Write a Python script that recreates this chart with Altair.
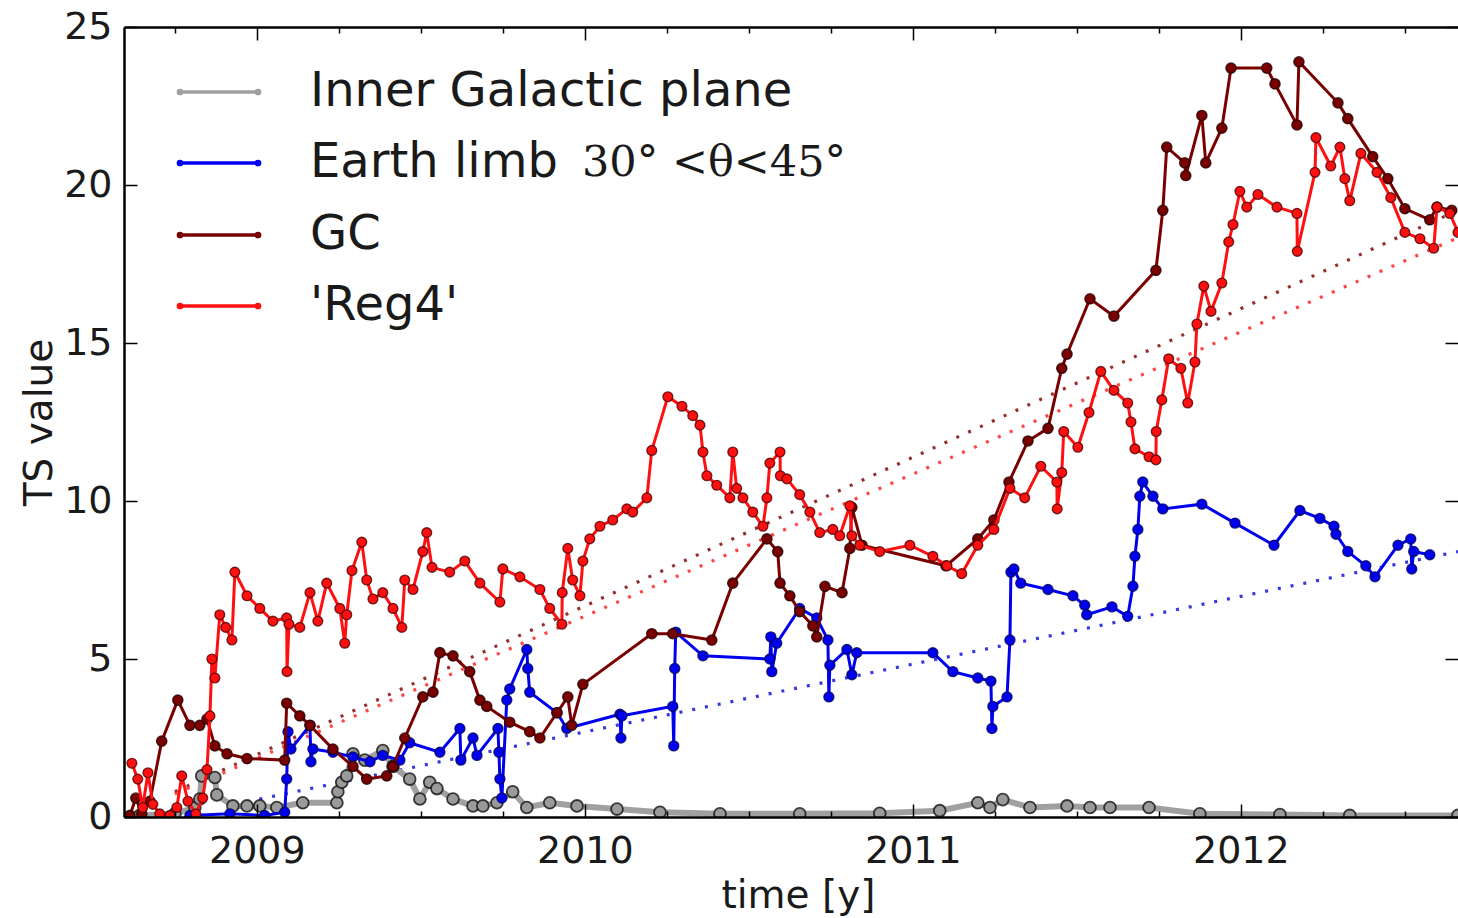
import altair as alt
import pandas as pd

# ---------------- data ----------------
years_major = [2009, 2010, 2011, 2012]
years_minor = [2008.75, 2009.25, 2009.5, 2009.75, 2010.25, 2010.5, 2010.75,
               2011.25, 2011.5, 2011.75, 2012.25, 2012.5]
y_ticks = [0, 5, 10, 15, 20, 25]

legend_names = ["Inner Galactic plane", "Earth limb", "GC", "'Reg4'"]
legend_math = "30° <θ<45°"
series_colors = ["#a0a0a0", "#0000f0", "#7a0000", "#ff1010"]

gal = [(2008.643, 0.05), (2008.750, 0.1), (2008.811, 0.3), (2008.826, 0.57), (2008.832, 1.3),
       (2008.872, 1.25), (2008.878, 0.7), (2008.927, 0.35), (2008.970, 0.35), (2009.009, 0.35),
       (2009.061, 0.3), (2009.140, 0.45), (2009.244, 0.45), (2009.247, 0.8), (2009.259, 1.1),
       (2009.274, 1.3), (2009.293, 2.0), (2009.329, 1.8), (2009.384, 2.1), (2009.415, 1.6),
       (2009.466, 1.2), (2009.497, 0.57), (2009.527, 1.1), (2009.549, 0.9), (2009.598, 0.57),
       (2009.659, 0.35), (2009.689, 0.35), (2009.732, 0.45), (2009.780, 0.8), (2009.823, 0.3),
       (2009.893, 0.45), (2009.976, 0.35), (2010.098, 0.25), (2010.229, 0.15), (2010.412, 0.1),
       (2010.655, 0.1), (2010.899, 0.12), (2011.082, 0.2), (2011.198, 0.45), (2011.235, 0.3),
       (2011.274, 0.55), (2011.357, 0.3), (2011.470, 0.35), (2011.540, 0.3), (2011.601, 0.3),
       (2011.720, 0.3), (2011.875, 0.1), (2012.119, 0.08), (2012.332, 0.05), (2012.662, 0.05)]

limb = [(2008.796, 0.05), (2008.918, 0.1), (2009.024, 0.05), (2009.085, 0.15), (2009.091, 1.2),
        (2009.095, 2.7), (2009.104, 2.15), (2009.162, 2.9), (2009.165, 1.75), (2009.171, 2.15),
        (2009.232, 2.05), (2009.293, 1.9), (2009.345, 1.75), (2009.384, 1.95), (2009.436, 1.8),
        (2009.466, 2.35), (2009.558, 2.05), (2009.619, 2.8), (2009.622, 1.8), (2009.659, 2.5),
        (2009.671, 1.95), (2009.735, 2.8), (2009.738, 2.05), (2009.741, 1.2), (2009.747, 0.6),
        (2009.762, 3.7), (2009.771, 4.05), (2009.823, 5.3), (2009.826, 4.7), (2009.832, 3.95),
        (2009.915, 3.3), (2009.945, 2.8), (2010.107, 3.25), (2010.110, 2.5), (2010.113, 3.2),
        (2010.268, 3.5), (2010.271, 2.25), (2010.274, 4.7), (2010.277, 5.85), (2010.360, 5.1),
        (2010.564, 5.0), (2010.567, 5.7), (2010.570, 4.6), (2010.585, 5.5), (2010.655, 6.6),
        (2010.707, 6.3), (2010.741, 5.6), (2010.744, 3.8), (2010.747, 4.8), (2010.799, 5.3),
        (2010.814, 4.5), (2010.829, 5.2), (2011.061, 5.2), (2011.122, 4.6), (2011.198, 4.4),
        (2011.238, 4.3), (2011.241, 2.8), (2011.244, 3.5), (2011.287, 3.8), (2011.296, 5.6),
        (2011.299, 7.75), (2011.308, 7.85), (2011.329, 7.4), (2011.412, 7.2), (2011.488, 7.0),
        (2011.524, 6.7), (2011.530, 6.4), (2011.607, 6.65), (2011.655, 6.35), (2011.671, 7.3),
        (2011.677, 8.25), (2011.686, 9.1), (2011.692, 10.15), (2011.701, 10.6), (2011.732, 10.15),
        (2011.762, 9.75), (2011.881, 9.9), (2011.982, 9.3), (2012.101, 8.6), (2012.180, 9.7),
        (2012.241, 9.45), (2012.284, 9.2), (2012.290, 8.95), (2012.326, 8.4), (2012.381, 7.95),
        (2012.409, 7.6), (2012.479, 8.6), (2012.518, 8.8), (2012.521, 7.85), (2012.527, 8.4),
        (2012.576, 8.3)]

gc = [(2008.613, 0.05), (2008.631, 0.6), (2008.649, 0.1), (2008.674, 0.5), (2008.710, 2.4),
      (2008.759, 3.7), (2008.796, 2.9), (2008.826, 2.9), (2008.848, 3.1), (2008.872, 2.25),
      (2008.909, 2.0), (2008.970, 1.85), (2009.085, 1.8), (2009.091, 3.6), (2009.131, 3.2),
      (2009.162, 2.9), (2009.232, 2.15), (2009.293, 1.6), (2009.335, 1.2), (2009.396, 1.3),
      (2009.415, 1.6), (2009.451, 2.5), (2009.506, 3.8), (2009.537, 3.95), (2009.558, 5.2),
      (2009.598, 5.1), (2009.649, 4.6), (2009.680, 3.7), (2009.701, 3.5), (2009.771, 3.0),
      (2009.832, 2.7), (2009.863, 2.5), (2009.915, 3.3), (2009.948, 3.8), (2009.960, 2.9),
      (2009.994, 4.2), (2010.204, 5.8), (2010.268, 5.8), (2010.387, 5.6), (2010.451, 7.4),
      (2010.555, 8.8), (2010.588, 8.4), (2010.595, 7.4), (2010.625, 7.0), (2010.655, 6.5),
      (2010.695, 6.05), (2010.707, 5.7), (2010.732, 7.3), (2010.784, 7.1), (2010.808, 8.5),
      (2010.814, 9.8), (2010.845, 8.6), (2011.101, 7.95), (2011.198, 8.8), (2011.247, 9.4),
      (2011.293, 10.6), (2011.351, 11.9), (2011.412, 12.3), (2011.454, 14.2), (2011.470, 14.65),
      (2011.540, 16.4), (2011.613, 15.85), (2011.741, 17.3), (2011.762, 19.2), (2011.774, 21.2),
      (2011.829, 20.7), (2011.832, 20.3), (2011.881, 22.2), (2011.893, 20.7), (2011.942, 21.8),
      (2011.970, 23.7), (2012.079, 23.7), (2012.104, 23.2), (2012.171, 21.9), (2012.177, 23.9),
      (2012.296, 22.6), (2012.326, 22.1), (2012.402, 20.9), (2012.448, 20.2), (2012.500, 19.25),
      (2012.576, 18.9), (2012.598, 19.3), (2012.643, 19.2)]

reg4 = [(2008.619, 1.7), (2008.637, 1.2), (2008.652, 0.3), (2008.668, 1.4), (2008.683, 0.4),
        (2008.704, 0.1), (2008.735, 0.05), (2008.756, 0.3), (2008.771, 1.3), (2008.790, 0.5),
        (2008.814, 0.1), (2008.835, 0.6), (2008.848, 1.5), (2008.857, 3.2), (2008.863, 5.0),
        (2008.872, 4.4), (2008.887, 6.4), (2008.905, 6.0), (2008.924, 5.6), (2008.933, 7.75),
        (2008.970, 7.0), (2009.009, 6.6), (2009.049, 6.2), (2009.091, 6.3), (2009.092, 4.6),
        (2009.098, 6.1), (2009.131, 6.0), (2009.162, 7.1), (2009.186, 6.2), (2009.213, 7.4),
        (2009.253, 6.6), (2009.268, 5.5), (2009.274, 6.4), (2009.290, 7.8), (2009.320, 8.7),
        (2009.335, 7.5), (2009.354, 6.9), (2009.384, 7.1), (2009.415, 6.6), (2009.442, 6.0),
        (2009.451, 7.5), (2009.476, 7.2), (2009.506, 8.4), (2009.518, 9.0), (2009.534, 7.9),
        (2009.588, 7.75), (2009.634, 8.1), (2009.680, 7.4), (2009.741, 6.8), (2009.750, 7.85),
        (2009.802, 7.6), (2009.863, 7.2), (2009.893, 6.6), (2009.930, 6.1), (2009.931, 7.1),
        (2009.948, 8.5), (2009.963, 7.5), (2009.985, 7.0), (2009.994, 8.1), (2010.015, 8.8),
        (2010.046, 9.2), (2010.085, 9.4), (2010.128, 9.75), (2010.146, 9.65), (2010.189, 10.1),
        (2010.204, 11.6), (2010.253, 13.3), (2010.296, 13.0), (2010.329, 12.7), (2010.351, 12.4),
        (2010.360, 11.55), (2010.372, 10.8), (2010.402, 10.5), (2010.442, 10.1), (2010.451, 11.55),
        (2010.463, 10.4), (2010.482, 10.1), (2010.512, 9.65), (2010.543, 9.2), (2010.555, 10.1),
        (2010.564, 11.2), (2010.595, 11.55), (2010.596, 10.8), (2010.616, 10.7), (2010.655, 10.2),
        (2010.686, 9.65), (2010.716, 9.0), (2010.756, 9.1), (2010.777, 8.9), (2010.808, 9.85),
        (2010.814, 8.9), (2010.838, 8.6), (2010.899, 8.4), (2010.991, 8.6), (2011.061, 8.25),
        (2011.104, 7.95), (2011.149, 7.7), (2011.198, 8.6), (2011.247, 9.1), (2011.296, 10.4),
        (2011.341, 10.1), (2011.390, 11.1), (2011.439, 10.6), (2011.440, 9.75), (2011.454, 10.9),
        (2011.460, 12.2), (2011.503, 11.7), (2011.537, 12.8), (2011.573, 14.1), (2011.613, 13.5),
        (2011.655, 13.1), (2011.665, 12.5), (2011.677, 11.65), (2011.720, 11.4), (2011.741, 11.3),
        (2011.742, 12.2), (2011.759, 13.2), (2011.780, 14.5), (2011.817, 14.2), (2011.838, 13.1),
        (2011.860, 14.4), (2011.866, 15.6), (2011.887, 16.8), (2011.909, 16.0), (2011.942, 16.9),
        (2011.963, 18.2), (2011.976, 18.75), (2011.997, 19.8), (2012.018, 19.3), (2012.052, 19.7),
        (2012.110, 19.3), (2012.171, 19.1), (2012.172, 17.9), (2012.226, 20.4), (2012.229, 21.5),
        (2012.274, 20.6), (2012.302, 21.2), (2012.317, 20.2), (2012.332, 19.5), (2012.366, 21.0),
        (2012.415, 20.4), (2012.457, 19.6), (2012.500, 18.5), (2012.546, 18.3), (2012.588, 18.0),
        (2012.598, 19.3), (2012.637, 19.1), (2012.662, 18.5)]

gc_trend = [(2008.75, 0.8), (2012.662, 19.2)]
reg4_trend = [(2008.75, 0.73), (2012.662, 18.33)]
limb_trend = [(2008.93, 0.4), (2012.662, 8.4)]

x_domain = [2008.595, 2012.662]
y_domain = [0, 25]

# ---------------- layout ----------------
W, H = 1334, 790
FONT = "DejaVu Sans"
TXT = "#1a1a1a"


def frame(pairs):
    return pd.DataFrame({"t": [p[0] for p in pairs],
                         "v": [p[1] for p in pairs],
                         "i": list(range(len(pairs)))})


xs = alt.Scale(domain=x_domain, nice=False, zero=False)
ys = alt.Scale(domain=y_domain, nice=False, zero=False)

common = dict(grid=False, tickColor="black", tickWidth=1.5, domain=False, zindex=1)
ax_xb = alt.Axis(orient="bottom", values=years_major, format="d", tickSize=13, offset=-13,
                 labelPadding=15, labelFontSize=38, labelColor=TXT, labelFont=FONT,
                 labelFlush=False, title="time [y]", titleFontSize=39, titleFont=FONT,
                 titleFontWeight="normal", titleColor=TXT, titlePadding=6, titleX=674,
                 **common)
ax_xb_minor = alt.Axis(orient="bottom", values=years_minor, tickSize=6, offset=-6,
                       labels=False, title=None, **common)
ax_xt = alt.Axis(orient="top", values=years_major, tickSize=13, offset=-13,
                 labels=False, title=None, **common)
ax_xt_minor = alt.Axis(orient="top", values=years_minor, tickSize=6, offset=-6,
                       labels=False, title=None, **common)
ax_xb_dom = alt.Axis(orient="bottom", ticks=False, labels=False, title=None, grid=False,
                     domain=True, domainColor="black", domainWidth=2.5, zindex=1)
ax_xt_dom = alt.Axis(orient="top", ticks=False, labels=False, title=None, grid=False,
                     domain=True, domainColor="black", domainWidth=2.5, zindex=1)
ax_yl = alt.Axis(orient="left", values=y_ticks, tickSize=13, offset=-13, labelPadding=12,
                 labelFontSize=38, labelColor=TXT, labelFont=FONT, labelFlush=False,
                 title="TS value", titleFontSize=39, titleFont=FONT, titleFontWeight="normal",
                 titleColor=TXT, titlePadding=4, **common)
ax_yr = alt.Axis(orient="right", values=y_ticks, tickSize=13, offset=-13,
                 labels=False, title=None, **common)
ax_yl_dom = alt.Axis(orient="left", ticks=False, labels=False, title=None, grid=False,
                     domain=True, domainColor="black", domainWidth=2.5, zindex=1)


def enc(ch, xaxis=None, yaxis=None):
    return ch.encode(x=alt.X("t:Q", scale=xs, axis=xaxis),
                     y=alt.Y("v:Q", scale=ys, axis=yaxis),
                     order="i:Q")


def trend(pairs, color, xaxis=None, yaxis=None, opacity=0.9):
    return enc(alt.Chart(frame(pairs)).mark_line(color=color, strokeWidth=3.2,
                                                 strokeDash=[3, 10], opacity=opacity,
                                                 clip=True), xaxis, yaxis)


def line(pairs, color, width, xaxis=None, yaxis=None):
    return enc(alt.Chart(frame(pairs)).mark_line(color=color, strokeWidth=width, clip=True),
               xaxis, yaxis)


def points(pairs, color, edge, size, xaxis=None, yaxis=None, edge_w=1.4):
    return enc(alt.Chart(frame(pairs)).mark_circle(color=color, size=size, opacity=1,
                                                   stroke=edge, strokeWidth=edge_w,
                                                   strokeOpacity=0.8, clip=True),
               xaxis, yaxis)


c_gal, c_limb, c_gc, c_reg4 = series_colors

layers = [
    trend(gc_trend, "#8a1a1a", ax_xb, ax_yl),
    trend(reg4_trend, "#ff3030", ax_xb_minor, ax_yr),
    trend(limb_trend, "#2020e0", ax_xt, ax_yl_dom),
    line(gal, c_gal, 6, ax_xt_minor),
    points(gal, "#9a9a9a", "#111111", 140, ax_xb_dom, edge_w=1.8),
    line(limb, c_limb, 3, ax_xt_dom),
    points(limb, c_limb, "#000060", 100),
    line(gc, c_gc, 3),
    points(gc, c_gc, "#200000", 105),
    line(reg4, c_reg4, 3),
    points(reg4, c_reg4, "#500000", 95),
]

# ---------------- legend (manual, matplotlib style) ----------------
leg_rows = [65, 136, 208, 279]
for name, color, ry in zip(legend_names, series_colors, leg_rows):
    one = pd.DataFrame({"label": [name]})
    layers.append(alt.Chart(one).mark_rule(color=color, strokeWidth=3.5).encode(
        x=alt.value(56), x2=alt.value(134), y=alt.value(ry)))
    for xx in (56, 134):
        layers.append(alt.Chart(one).mark_circle(color=color, size=45, opacity=1).encode(
            x=alt.value(xx), y=alt.value(ry)))
    layers.append(alt.Chart(one).mark_text(align="left", baseline="middle", fontSize=48,
                                           font=FONT, color=TXT).encode(
        x=alt.value(186), y=alt.value(ry), text="label:N"))

math = pd.DataFrame({"label": [legend_math]})
layers.append(alt.Chart(math).mark_text(align="left", baseline="middle", fontSize=43,
                                        font="DejaVu Serif", color=TXT).encode(
    x=alt.value(458), y=alt.value(leg_rows[1]), text="label:N"))

chart = (
    alt.layer(*layers)
    .resolve_axis(x="independent", y="independent")
    .properties(width=W, height=H,
                padding={"left": 124, "top": 27, "right": 0, "bottom": 101},
                autosize=alt.AutoSizeParams(type="none"),
                background="white")
    .configure_view(stroke=None)
)

chart.save("out.html", embed_options={"renderer": "svg", "actions": False})
